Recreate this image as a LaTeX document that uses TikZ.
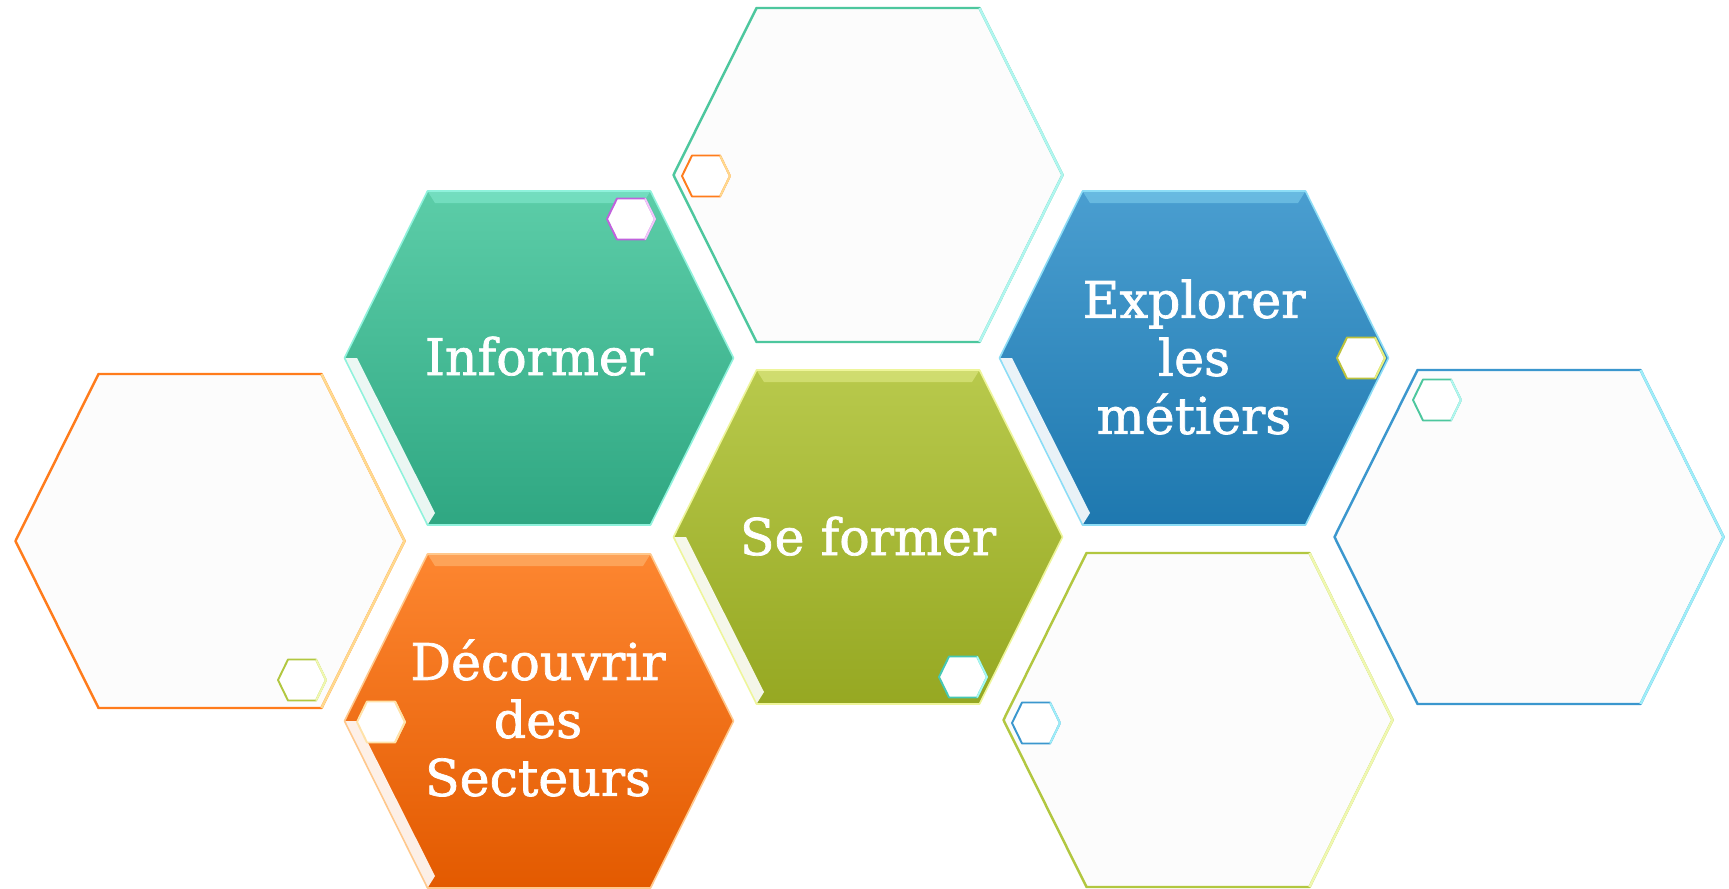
\documentclass[tikz,border=0pt]{standalone}
\usepackage{fontspec}
\setmainfont{DejaVu Serif}
\newfontfamily\hexfont[FakeBold=1.4]{DejaVu Serif}
\definecolor{infT}{HTML}{5CCDA8}
\definecolor{infB}{HTML}{2FA782}
\definecolor{infL}{HTML}{8FF2DC}
\definecolor{expT}{HTML}{4A9ED0}
\definecolor{expB}{HTML}{1E78AF}
\definecolor{expL}{HTML}{8CDDF6}
\definecolor{forT}{HTML}{B8C94C}
\definecolor{forB}{HTML}{96A822}
\definecolor{forL}{HTML}{EEF59A}
\definecolor{decT}{HTML}{FD8630}
\definecolor{decB}{HTML}{E35A00}
\definecolor{decL}{HTML}{FFC88C}
\definecolor{decW}{HTML}{FFE2A8}
\definecolor{tealD}{HTML}{4DC79E}
\definecolor{tealL}{HTML}{B0F6F0}
\definecolor{oraD}{HTML}{FF7C1C}
\definecolor{oraL}{HTML}{FFDA8E}
\definecolor{bluD}{HTML}{3B97CE}
\definecolor{bluL}{HTML}{9EEEF8}
\definecolor{grnD}{HTML}{B2C740}
\definecolor{grnL}{HTML}{F0F8B0}
\definecolor{purD}{HTML}{C062DC}
\definecolor{purL}{HTML}{F2C8FA}
\definecolor{olvD}{HTML}{BCC23C}
\definecolor{olvL}{HTML}{E6EE80}
\definecolor{cyaD}{HTML}{45C8B4}
\definecolor{cyaL}{HTML}{A8F8F2}
\definecolor{emptyfill}{HTML}{FCFCFC}
\newcommand{\hexB}{(-194.5,0) -- (-111.5,-167) -- (111.5,-167) -- (194.5,0) -- (111.5,167) -- (-111.5,167) -- cycle}
\newcommand{\hexS}{(-24,0) -- (-14,-20.5) -- (14,-20.5) -- (24,0) -- (14,20.5) -- (-14,20.5) -- cycle}
\tikzset{
 pics/colhex/.style n args={3}{code={
   \shade[top color=#1, bottom color=#2] \hexB;
   \fill[#3, opacity=.45] (-111.5,-167) -- (111.5,-167) -- (104,-155) -- (-104,-155) -- cycle;
   \fill[white, opacity=.9] (-194.5,0) -- (-182,0) -- (-104,155) -- (-111.5,167) -- cycle;
   \draw[#3, line width=0.9pt, line join=round] \hexB;
 }},
 pics/emptyhex/.style n args={2}{code={
   \fill[emptyfill] \hexB;
   \draw[#1, line width=1.4pt, line join=round] \hexB;
   \draw[#2, line width=1.4pt, line join=round] (111.5,-167) -- (194.5,0) -- (111.5,167);
 }},
 pics/smallhex/.style n args={2}{code={
   \fill[white] \hexS;
   \draw[#1, line width=1.1pt, line join=round] \hexS;
   \draw[#2, line width=1.1pt, line join=round] (14,-20.5) -- (24,0) -- (14,20.5);
 }},
 hextext/.style={text=white, font=\hexfont\fontsize{28.8}{33}\selectfont, align=center, inner sep=0pt}
}
\begin{document}
\begin{tikzpicture}[x=0.02cm,y=-0.02cm]
\useasboundingbox[fill=white] (0,0) rectangle (1729,889);
% empty hexagons
\pic at (868,175) {emptyhex={tealD}{tealL}};
\pic at (210,541) {emptyhex={oraD}{oraL}};
\pic at (1529,537) {emptyhex={bluD}{bluL}};
\pic at (1198,720) {emptyhex={grnD}{grnL}};
% coloured hexagons
\pic at (539,358) {colhex={infT}{infB}{infL}};
\pic at (1194,358) {colhex={expT}{expB}{expL}};
\pic at (868,537) {colhex={forT}{forB}{forL}};
\pic at (539,721) {colhex={decT}{decB}{decL}};
% small hexagons
\pic at (631,219) {smallhex={purD}{purL}};
\pic at (706,176) {smallhex={oraD}{oraL}};
\pic at (1361,358) {smallhex={olvD}{olvL}};
\pic at (302,680) {smallhex={grnD}{grnL}};
\pic at (381,722) {smallhex={decW}{decW}};
\pic at (1437,400) {smallhex={tealD}{tealL}};
\pic at (963,677) {smallhex={cyaD}{cyaL}};
\pic at (1036,723) {smallhex={bluD}{bluL}};
% texts
\node[hextext, anchor=base] (informer) at (539,375) {Informer};
\node[hextext, anchor=base] (seformer) at (868,555) {Se former};
\node[hextext] (explorer) at (1194,357) {Explorer\\les\\métiers};
\node[hextext] (decouvrir) at (538,718) {Découvrir\\des\\Secteurs};
\end{tikzpicture}
\end{document}
